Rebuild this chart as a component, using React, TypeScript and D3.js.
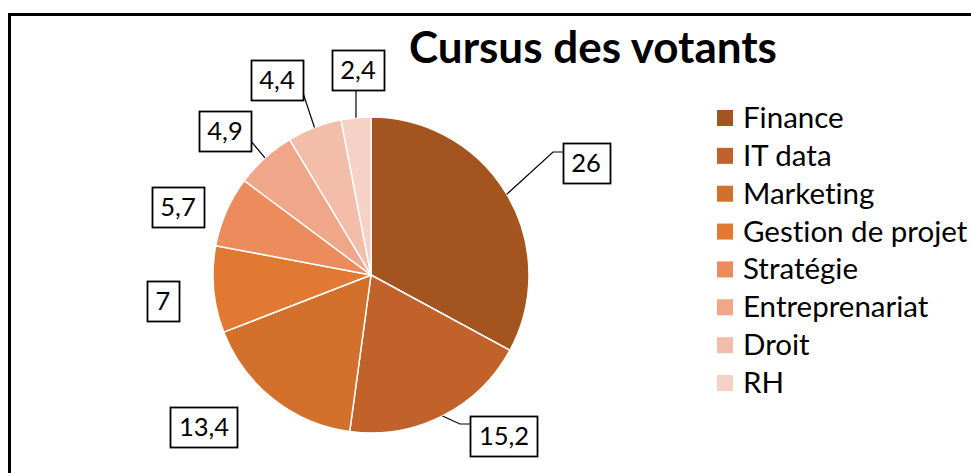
import React, { useEffect, useRef } from "react";
import * as d3 from "d3";

const categories = ["Finance", "IT data", "Marketing", "Gestion de projet", "Stratégie", "Entreprenariat", "Droit", "RH"];
const values = [26, 15.2, 13.4, 7, 5.7, 4.9, 4.4, 2.4];
const valueLabels = ["26", "15,2", "13,4", "7", "5,7", "4,9", "4,4", "2,4"];
const colors = ["#A4551F", "#C0622A", "#D2702C", "#E27932", "#EC8B5B", "#F0A688", "#F3BDA9", "#F6D2C6"];
const title = "Cursus des votants";

// label box layout (annotation positions)
const labelLayout: { cx: number; cy: number; attach?: [number, number]; elbow?: [number, number] }[] = [
  { cx: 586, cy: 163, attach: [564, 152], elbow: [553, 152] },
  { cx: 504, cy: 436, attach: [472, 424], elbow: [460, 424] },
  { cx: 204, cy: 427 },
  { cx: 163, cy: 301 },
  { cx: 178, cy: 207 },
  { cx: 225, cy: 131, attach: [250, 140] },
  { cx: 277, cy: 80, attach: [303, 93] },
  { cx: 358, cy: 70, attach: [356, 90] },
];

const W = 971;
const H = 473;
const FONT = "Lato, 'Open Sans', sans-serif";

export default function App() {
  const ref = useRef<SVGSVGElement | null>(null);

  useEffect(() => {
    const svg = d3.select(ref.current);
    svg.selectAll("*").remove();

    svg.append("rect").attr("x", 0).attr("y", 0).attr("width", W).attr("height", H).attr("fill", "#fff");
    svg
      .append("rect")
      .attr("x", 9.5)
      .attr("y", 14.5)
      .attr("width", 1000)
      .attr("height", 600)
      .attr("fill", "#fff")
      .attr("stroke", "#000")
      .attr("stroke-width", 3);

    const cx = 371;
    const cy = 275;
    const r = 158;

    const pie = d3.pie<number>().sort(null).value((d) => d);
    const arcs = pie(values);
    const arc = d3.arc<d3.PieArcDatum<number>>().innerRadius(0).outerRadius(r);
    const edge = d3.arc<d3.PieArcDatum<number>>().innerRadius(r).outerRadius(r);

    const g = svg.append("g").attr("transform", `translate(${cx},${cy})`);
    g.selectAll("path")
      .data(arcs)
      .join("path")
      .attr("d", arc as any)
      .attr("fill", (_d, i) => colors[i])
      .attr("stroke", "#fff")
      .attr("stroke-width", 1.5)
      .attr("stroke-linejoin", "round");

    // leader lines
    arcs.forEach((a, i) => {
      const L = labelLayout[i];
      if (!L.attach) return;
      const [ex, ey] = edge.centroid(a);
      const pts: [number, number][] = [[cx + ex, cy + ey]];
      if (L.elbow) pts.push(L.elbow);
      pts.push(L.attach);
      svg
        .append("path")
        .attr("d", d3.line()(pts))
        .attr("fill", "none")
        .attr("stroke", "#000")
        .attr("stroke-width", 1.2);
    });

    // label boxes
    arcs.forEach((_a, i) => {
      const L = labelLayout[i];
      const lg = svg.append("g");
      const rect = lg.append("rect");
      const t = lg
        .append("text")
        .attr("x", L.cx)
        .attr("y", L.cy + 9)
        .attr("text-anchor", "middle")
        .attr("font-family", FONT)
        .attr("font-size", 25.5)
        .attr("fill", "#000")
        .style("font-variant-ligatures", "none")
        .text(valueLabels[i]);
      const tw = (t.node() as SVGTextElement).getComputedTextLength();
      const bw = tw + 17;
      const bh = 40;
      rect
        .attr("x", Math.round(L.cx - bw / 2) + 0.5)
        .attr("y", Math.round(L.cy - bh / 2) + 0.5)
        .attr("width", Math.round(bw))
        .attr("height", bh)
        .attr("fill", "#fff")
        .attr("stroke", "#000")
        .attr("stroke-width", 1.8);
    });

    // title
    svg
      .append("text")
      .attr("x", 593)
      .attr("y", 63)
      .attr("text-anchor", "middle")
      .attr("font-family", FONT)
      .attr("font-weight", "bold")
      .attr("font-size", 44)
      .attr("fill", "#000")
      .style("font-variant-ligatures", "none")
      .text(title);

    // legend
    const ly = d3.scalePoint<string>().domain(categories).range([118, 383]);
    const leg = svg.append("g");
    categories.forEach((c, i) => {
      const y = ly(c)!;
      leg
        .append("rect")
        .attr("x", 717)
        .attr("y", y - 8)
        .attr("width", 16)
        .attr("height", 16)
        .attr("fill", colors[i]);
      leg
        .append("text")
        .attr("x", 743)
        .attr("y", y + 10)
        .attr("font-family", FONT)
        .attr("font-size", 29.5)
        .attr("fill", "#000")
        .style("font-variant-ligatures", "none")
        .text(c);
    });
  }, []);

  return (
    <svg
      ref={ref}
      width={W}
      height={H}
      style={{ position: "absolute", left: 0, top: 0, display: "block" }}
    />
  );
}
